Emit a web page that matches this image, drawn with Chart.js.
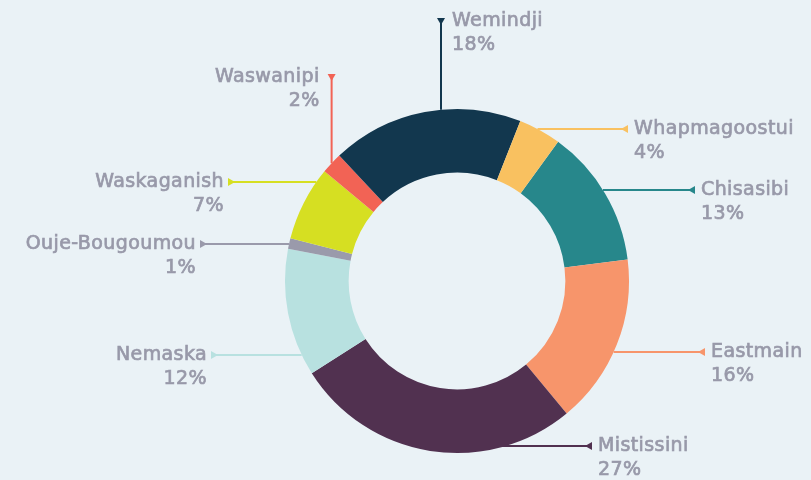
<!DOCTYPE html>
<html>
<head>
<meta charset="utf-8">
<script src="https://cdn.jsdelivr.net/npm/chart.js@4"></script>
<style>
  html, body { margin: 0; padding: 0; background: #eaf2f6; }
  #wrap { width: 811px; height: 480px; }
</style>
</head>
<body>
<div id="wrap"><canvas id="chart"></canvas></div>
<script>
// data
const communities = ["Chisasibi", "Eastmain", "Mistissini", "Nemaska", "Ouje-Bougoumou",
  "Waskaganish", "Waswanipi", "Wemindji", "Whapmagoostui"];
const shares = [13, 16, 27, 12, 1, 7, 2, 18, 4];
const sliceColors = ["#27878b", "#f7956b", "#513150", "#b8e1e0", "#9a9aab",
  "#d6df22", "#f26355", "#12374e", "#f9c160"];

// callout layout: direction of leader, where the marker sits, which side the text goes
const callouts = {
  "Chisasibi":      { dir: "h", to: 692, side: "right", y: 190 },
  "Eastmain":       { dir: "h", to: 702, side: "right", y: 352 },
  "Mistissini":     { dir: "h", to: 589, side: "right", y: 446, from: -30 },
  "Nemaska":        { dir: "h", to: 214, side: "left", y: 355 },
  "Ouje-Bougoumou": { dir: "h", to: 203, side: "left", y: 244 },
  "Waskaganish":    { dir: "h", to: 231, side: "left", y: 182 },
  "Waswanipi":      { dir: "v", to: 77, side: "left" },
  "Wemindji":       { dir: "v", to: 21, side: "right", x: 441 },
  "Whapmagoostui":  { dir: "h", to: 625, side: "right", y: 129 }
};

const TEXT_COLOR = "#9899a9";

const calloutPlugin = {
  id: "callouts",
  afterDatasetsDraw(chart) {
    const { ctx } = chart;
    const meta = chart.getDatasetMeta(0);
    meta.data.forEach((arc, i) => {
      const name = communities[i];
      const c = callouts[name];
      const color = sliceColors[i];
      const mid = (arc.startAngle + arc.endAngle) / 2;
      const R = arc.outerRadius;
      let sx = arc.x + R * Math.cos(mid);
      let sy = arc.y + R * Math.sin(mid);
      // pin the leader to a fixed row / column, starting on the outer edge
      if (c.y !== undefined) {
        sy = c.y;
        const dx = Math.sqrt(Math.max(0, R * R - (sy - arc.y) ** 2));
        sx = arc.x + (c.side === "right" ? dx : -dx);
        if (c.from !== undefined) sx = arc.x + c.from;
      }
      if (c.x !== undefined) {
        sx = c.x;
        const dy = Math.sqrt(Math.max(0, R * R - (sx - arc.x) ** 2));
        sy = arc.y - dy;
      }
      let ex, ey;
      if (c.dir === "h") { ex = c.to; ey = sy; } else { ex = sx; ey = c.to; }

      ctx.save();
      ctx.strokeStyle = color;
      ctx.lineWidth = 2;
      ctx.beginPath();
      ctx.moveTo(sx, sy);
      ctx.lineTo(ex, ey);
      ctx.stroke();

      // marker triangle, apex pointing back toward the ring
      ctx.fillStyle = color;
      ctx.beginPath();
      if (c.dir === "v") {
        ctx.moveTo(ex - 4, ey - 3);
        ctx.lineTo(ex + 4, ey - 3);
        ctx.lineTo(ex, ey + 4);
      } else if (c.side === "right") {
        ctx.moveTo(ex + 3, ey - 4);
        ctx.lineTo(ex + 3, ey + 4);
        ctx.lineTo(ex - 4, ey);
      } else {
        ctx.moveTo(ex - 3, ey - 4);
        ctx.lineTo(ex - 3, ey + 4);
        ctx.lineTo(ex + 4, ey);
      }
      ctx.closePath();
      ctx.fill();

      // labels (thin stroke to get the medium weight of the original)
      ctx.fillStyle = TEXT_COLOR;
      ctx.strokeStyle = TEXT_COLOR;
      ctx.lineWidth = 0.7;
      ctx.font = "19px 'DejaVu Sans', sans-serif";
      ctx.letterSpacing = "0.4px";
      ctx.textBaseline = "middle";
      let tx;
      if (c.dir === "v") {
        tx = c.side === "right" ? ex + 11 : ex - 12;
      } else {
        tx = c.side === "right" ? ex + 9 : ex - 7;
      }
      const ty = ey;
      ctx.textAlign = c.side === "right" ? "left" : "right";
      [name, shares[i] + "%"].forEach((t, k) => {
        ctx.fillText(t, tx, ty + k * 24);
        ctx.strokeText(t, tx, ty + k * 24);
      });
      ctx.restore();
    });
  }
};

new Chart(document.getElementById("chart"), {
  type: "doughnut",
  data: {
    labels: communities,
    datasets: [{
      data: shares,
      backgroundColor: sliceColors,
      borderWidth: 0
    }]
  },
  options: {
    responsive: true,
    maintainAspectRatio: false,
    animation: false,
    cutout: "63%",
    rotation: 36,
    layout: { padding: { top: 109, bottom: 27, left: 285, right: 182 } },
    plugins: {
      legend: { display: false },
      tooltip: { enabled: false }
    }
  },
  plugins: [calloutPlugin]
});
</script>
</body>
</html>
